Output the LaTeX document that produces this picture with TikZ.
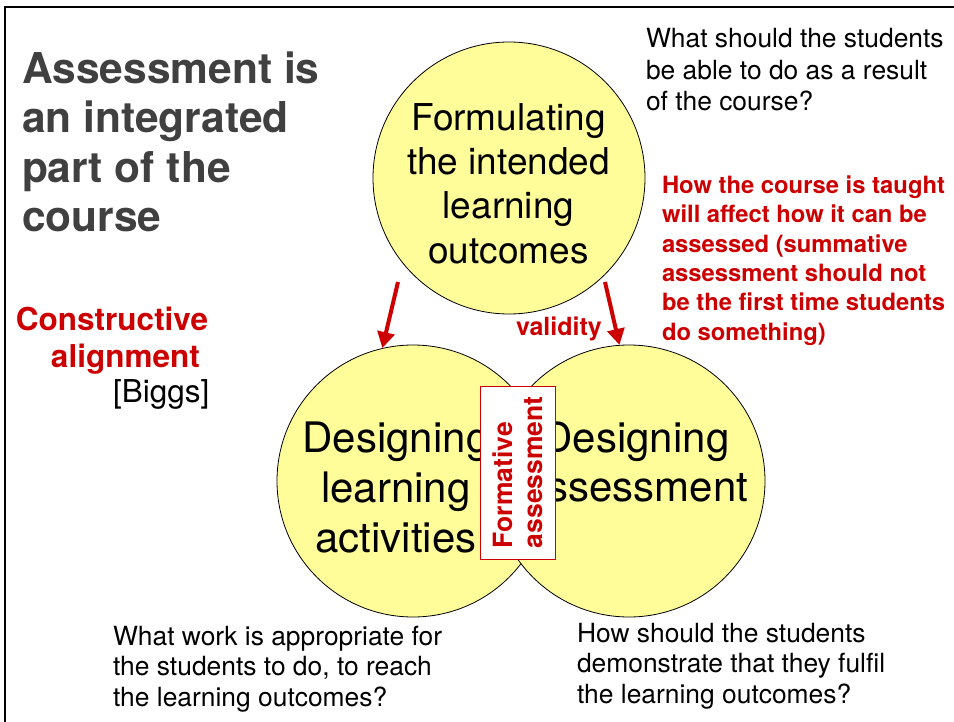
\documentclass[tikz,border=0pt]{standalone}
\usepackage{fontspec}
\setmainfont{TeX Gyre Heros}
\usetikzlibrary{arrows.meta}

\definecolor{slidered}{RGB}{204,0,0}
\definecolor{titlegray}{RGB}{64,64,64}
\definecolor{bubblefill}{RGB}{255,253,153}

% font size / line spacing in pt
\newcommand{\fs}[2]{\fontsize{#1pt}{#2pt}\selectfont}
% invisible strut fixing the height of a first line
\newcommand{\topline}[1]{\rule{0pt}{#1pt}}

\begin{document}
\begin{tikzpicture}[x=1pt,y=-1pt,
  bubble/.style={circle,draw=black,line width=0.8pt,fill=bubblefill,
                 minimum size=272pt,inner sep=0pt},
  txt/.style={inner sep=0pt,outer sep=0pt,anchor=north west,align=left},
  ctxt/.style={inner sep=0pt,outer sep=0pt,anchor=north,align=center},
  btxt/.style={inner sep=0pt,outer sep=0pt,anchor=base west},
  push/.style={draw=slidered,line width=4pt,
               -{Triangle[width=17pt,length=16pt]}},
]
\useasboundingbox (0,0) rectangle (954,722);

% slide frame
\draw[line width=2pt] (5,722) -- (5,7.5) -- (954,7.5);

% the three bubbles
\node[bubble] (outc)   at (509,178) {};
\node[bubble] (learn)  at (413,481) {};
\node[bubble] (assess) at (629,481) {};

\node[ctxt,font=\fs{37}{44.5}] (outctext) at (508.5,93)
  {\topline{37}Formulating\\the intended\\learning\\outcomes};
\node[ctxt,font=\fs{42}{50}] (learntext) at (396,410)
  {\topline{42}Designing\\learning\\activities};
\node[ctxt,font=\fs{42}{49.5}] (assesstext) at (636,410)
  {\topline{42}Designing\\assessment};

% formative assessment box across the overlap
\node[draw=slidered,fill=white,line width=1pt,inner sep=0pt,
      minimum width=75pt,minimum height=173pt] (formbox) at (517.5,472.5) {};
\node[txt,rotate=90,font=\bfseries\fs{26.5}{30},text=slidered] (formtext)
  at (485.5,548) {\topline{26.5}Formative\\assessment};

% alignment arrows
\coordinate (pushL) at (398,282);
\coordinate (pushR) at (605,282);
\draw[push] (pushL) -- (learn.103);
\draw[push] (pushR) -- (assess.94);
\node[btxt,font=\bfseries\fs{25}{30},text=slidered] (validity) at (516,335) {validity};

% headings and notes
\node[txt,font=\bfseries\fs{42.5}{49.5},text=titlegray] (title) at (22,41)
  {\topline{42.5}Assessment is\\an integrated\\part of the\\course};

\node[txt,font=\fs{26.4}{31.2}] (qtop) at (646,21.6)
  {\topline{26.4}What should the students\\be able to do as a result\\of the course?};

\node[txt,font=\bfseries\fs{23.8}{29.4},text=slidered] (taught) at (662,169.5)
  {\topline{23.8}How the course is taught\\will affect how it can be\\assessed (summative\\assessment should not\\be the first time students\\do something)};

\node[txt,font=\bfseries\fs{31.5}{37},text=slidered] (constr) at (16,299)
  {\topline{31.5}Constructive\\\hspace*{35pt}alignment};
\node[btxt,font=\fs{31.5}{37}] (biggs) at (113,402) {[Biggs]};

\node[txt,font=\fs{26.4}{30.7}] (qleft) at (113,618.6)
  {\topline{26.4}What work is appropriate for\\the students to do, to reach\\the learning outcomes?};
\node[txt,font=\fs{26.4}{30.7}] (qright) at (577,615.6)
  {\topline{26.4}How should the students\\demonstrate that they fulfil\\the learning outcomes?};
\end{tikzpicture}
\end{document}
